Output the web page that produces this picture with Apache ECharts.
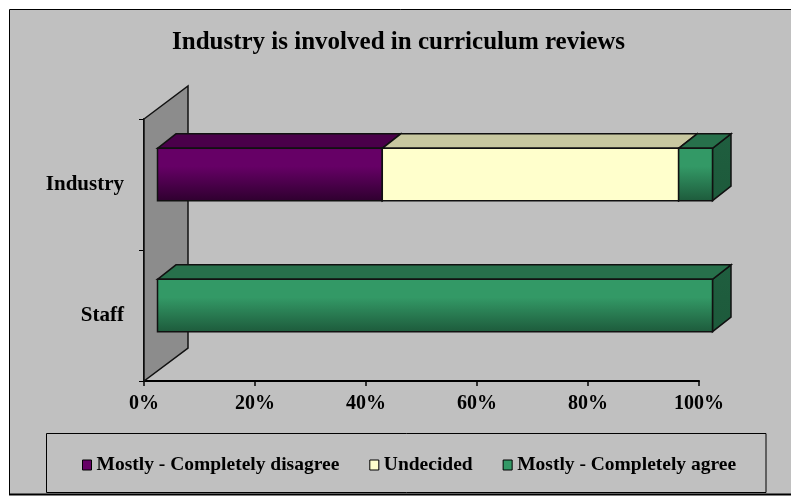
<!DOCTYPE html>
<html>
<head>
<meta charset="utf-8">
<script src="https://cdn.jsdelivr.net/npm/echarts@6/dist/echarts.min.js"></script>
<style>
  html, body { margin: 0; padding: 0; background: #ffffff; }
  #chart { width: 791px; height: 497px; }
</style>
</head>
<body>
<div id="chart"></div>
<script>
// Survey responses, percent of respondents per group
const categories = ['Staff', 'Industry'];
const seriesNames = ['Mostly - Completely disagree', 'Undecided', 'Mostly - Completely agree'];
const disagree = [0, 40.5];
const undecided = [0, 53.4];
const agree = [100, 6.1];
const xTickStep = 20;

const FONT = '"Liberation Serif", "Times New Roman", serif';

// Face colours for each segment: front, top, side
const faces = [
  { front: '#660066', dark: '#2e002e', top: '#4a004a', side: '#3a003a' },
  { front: '#ffffcc', dark: '#ffffcc', top: '#c8c8a0', side: '#b8b890' },
  { front: '#339966', dark: '#1d5a3b', top: '#27704b', side: '#1f5e3f' }
];

// Build [categoryIndex, start, end] triples for the stacked segments
const valueSets = [disagree, undecided, agree];
const stacked = valueSets.map(() => []);
categories.forEach((c, ci) => {
  let acc = 0;
  valueSets.forEach((vals, si) => {
    stacked[si].push([ci, acc, acc + vals[ci]]);
    acc += vals[ci];
  });
});

// Oblique projection used for the 3-D look
const OFF_X = 13.5, OFF_Y = -10;     // bar front plane
const DEP_X = 18.5, DEP_Y = -14.5;   // bar depth
const WALL_X = 44, WALL_Y = -33;     // back wall depth
const EDGE = '#111111';

function barRenderer(f) {
  return function (params, api) {
    const cat = api.value(0), start = api.value(1), end = api.value(2);
    if (end - start <= 0) return null;
    const a = api.coord([start, cat]);
    const b = api.coord([end, cat]);
    const band = api.size([0, 1])[1];
    const h = band * 0.4;
    const x0 = a[0] + OFF_X, x1 = b[0] + OFF_X;
    const yT = a[1] + OFF_Y - h / 2, yB = a[1] + OFF_Y + h / 2;
    const stroke = { stroke: EDGE, lineWidth: 1.5 };
    return {
      type: 'group',
      children: [
        {
          type: 'polygon',
          shape: { points: [[x1, yT], [x1 + DEP_X, yT + DEP_Y], [x1 + DEP_X, yB + DEP_Y], [x1, yB]] },
          style: Object.assign({
            fill: new echarts.graphic.LinearGradient(0, 0, 0, 1, [
              { offset: 0, color: f.side }, { offset: 1, color: f.dark }
            ])
          }, stroke)
        },
        {
          type: 'polygon',
          shape: { points: [[x0, yT], [x0 + DEP_X, yT + DEP_Y], [x1 + DEP_X, yT + DEP_Y], [x1, yT]] },
          style: Object.assign({ fill: f.top }, stroke)
        },
        {
          type: 'rect',
          shape: { x: x0, y: yT, width: x1 - x0, height: h },
          style: Object.assign({
            fill: new echarts.graphic.LinearGradient(0, 0, 0, 1, [
              { offset: 0, color: f.front }, { offset: 0.35, color: f.front }, { offset: 1, color: f.dark }
            ])
          }, stroke)
        }
      ]
    };
  };
}

function wallRenderer(params, api) {
  const band = api.size([0, 1])[1];
  const first = api.coord([0, 0]);
  const last = api.coord([0, categories.length - 1]);
  const x = first[0];
  const yBot = first[1] + band / 2;
  const yTop = last[1] - band / 2;
  return {
    type: 'polygon',
    shape: { points: [[x, yTop], [x + WALL_X, yTop + WALL_Y], [x + WALL_X, yBot + WALL_Y], [x, yBot]] },
    style: { fill: '#8c8c8c', stroke: EDGE, lineWidth: 1.5 }
  };
}

const chart = echarts.init(document.getElementById('chart'), null, { renderer: 'canvas' });

const series = [{
  type: 'custom',
  name: 'wall',
  renderItem: wallRenderer,
  data: [[0, 0]],
  z: 1,
  silent: true
}];
seriesNames.forEach((name, i) => {
  series.push({
    type: 'custom',
    name: name,
    renderItem: barRenderer(faces[i]),
    encode: { x: [1, 2], y: 0 },
    itemStyle: { color: faces[i].front },
    data: stacked[i],
    z: 3
  });
});

chart.setOption({
  backgroundColor: '#ffffff',
  animation: false,
  title: {
    text: 'Industry is involved in curriculum reviews',
    left: 172,
    top: 30,
    padding: 0,
    textStyle: { fontFamily: FONT, fontWeight: 'bold', fontSize: 25, color: '#000' }
  },
  graphic: [
    {
      type: 'rect', z: -10,
      shape: { x: 9.5, y: 9.5, width: 800, height: 485 },
      style: { fill: '#c0c0c0', stroke: '#000', lineWidth: 1 }
    },
    {
      type: 'line', z: -9,
      shape: { x1: 9, y1: 494.5, x2: 791, y2: 494.5 },
      style: { stroke: '#000', lineWidth: 2 }
    },
    {
      type: 'rect', z: -9,
      shape: { x: 46.5, y: 433.5, width: 719.5, height: 59 },
      style: { fill: '#c0c0c0', stroke: '#000', lineWidth: 1 }
    }
  ],
  legend: {
    data: seriesNames,
    left: 82,
    top: 455,
    padding: 0,
    itemGap: 30,
    itemWidth: 9,
    itemHeight: 10,
    icon: 'rect',
    itemStyle: { borderColor: '#000', borderWidth: 1 },
    textStyle: { fontFamily: FONT, fontWeight: 'bold', fontSize: 19.5, color: '#000' }
  },
  grid: { left: 144, top: 119, width: 555, height: 262, containLabel: false },
  xAxis: {
    type: 'value',
    min: 0,
    max: 100,
    interval: xTickStep,
    axisLine: { show: true, lineStyle: { color: '#000', width: 2 } },
    axisTick: { show: true, length: 5, lineStyle: { color: '#000', width: 1.5 } },
    splitLine: { show: false },
    axisLabel: {
      formatter: '{value}%',
      margin: 13,
      fontFamily: FONT, fontWeight: 'bold', fontSize: 20, color: '#000'
    }
  },
  yAxis: {
    type: 'category',
    data: categories,
    axisLine: { show: true, lineStyle: { color: '#000', width: 2 } },
    axisTick: { show: true, length: 5, lineStyle: { color: '#000', width: 1 } },
    splitLine: { show: false },
    axisLabel: {
      margin: 20,
      fontFamily: FONT, fontWeight: 'bold', fontSize: 21, color: '#000'
    }
  },
  series: series
});
</script>
</body>
</html>
